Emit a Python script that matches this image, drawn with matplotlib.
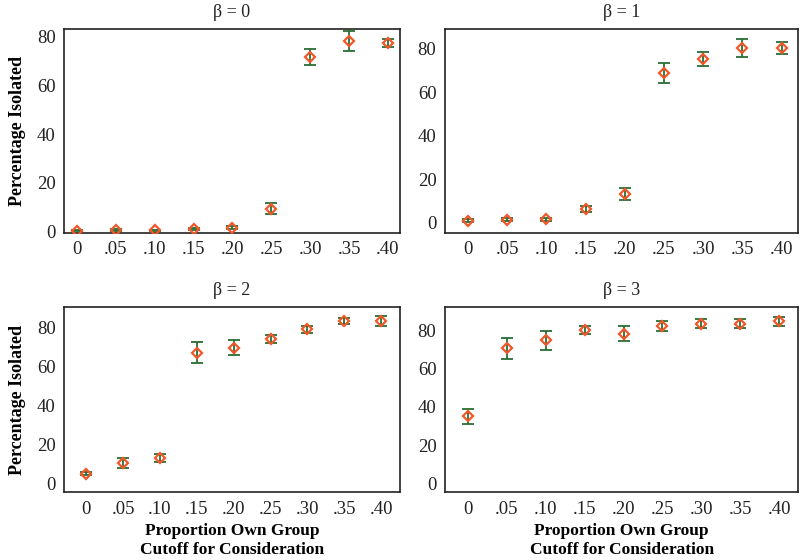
import matplotlib
matplotlib.use("Agg")
import matplotlib.pyplot as plt
import numpy as np

# cutoff categories (x) shared by all panels
cutoffs = ['0', '.05', '.10', '.15', '.20', '.25', '.30', '.35', '.40']

# beta = 0
b0_mean = [0.4, 0.8, 0.6, 1.1, 1.6, 9.5, 71.6, 78.2, 77.3]
b0_err = [0.3, 0.4, 0.3, 0.5, 0.6, 2.2, 3.2, 4.0, 1.8]
# beta = 1
b1_mean = [1.1, 1.5, 1.7, 6.6, 13.3, 68.9, 75.4, 80.3, 80.5]
b1_err = [0.5, 0.6, 0.6, 1.4, 2.9, 4.7, 3.3, 4.2, 2.7]
# beta = 2
b2_mean = [4.8, 10.4, 13.0, 67.0, 69.7, 74.2, 79.0, 83.4, 83.2]
b2_err = [0.8, 2.4, 1.9, 5.4, 4.0, 2.1, 1.8, 1.7, 2.6]
# beta = 3
b3_mean = [35.1, 70.6, 74.8, 80.2, 78.3, 82.3, 83.5, 83.5, 84.7]
b3_err = [3.9, 5.4, 5.1, 2.1, 3.8, 2.4, 2.2, 2.4, 2.4]

titles = ['β = 0', 'β = 1', 'β = 2', 'β = 3']

green = '#2a6e34'
orange = '#f2572a'

fig = plt.figure(figsize=(8, 5.6), dpi=100)

# [left, bottom, width, height] in figure fraction
boxes = [
    [0.080, 0.584, 0.420, 0.364],
    [0.556, 0.584, 0.442, 0.364],
    [0.080, 0.121, 0.420, 0.330],
    [0.556, 0.121, 0.442, 0.330],
]
ylims = [(-0.5, 83), (-4.6, 89), (-4.6, 90.3), (-4.7, 92)]
xlims = [(-0.33, 8.31), (-0.59, 8.43), (-0.6, 8.51), (-0.59, 8.49)]

means = [b0_mean, b1_mean, b2_mean, b3_mean]
errs = [b0_err, b1_err, b2_err, b3_err]

serif = ['Liberation Serif', 'DejaVu Serif']
x = np.arange(len(cutoffs))

for i in range(4):
    ax = fig.add_axes(boxes[i])
    ax.errorbar(x, means[i], yerr=errs[i], fmt='none', ecolor=green,
                elinewidth=1.3, capsize=4, capthick=1.3, zorder=2)
    ax.plot(x, means[i], linestyle='none', marker='D', markersize=5,
            markerfacecolor='none', markeredgecolor=orange,
            markeredgewidth=1.6, zorder=3)
    ax.set_xlim(*xlims[i])
    ax.set_ylim(*ylims[i])
    ax.set_xticks(x)
    ax.set_xticklabels(cutoffs)
    ax.set_yticks([0, 20, 40, 60, 80])
    ax.tick_params(length=0, pad=6, labelsize=13.5)
    for lab in ax.get_xticklabels() + ax.get_yticklabels():
        lab.set_family(serif)
        lab.set_color('#222222')
    for s in ax.spines.values():
        s.set_linewidth(1.2)
        s.set_color('#222222')
    ax.set_title(titles[i], fontsize=13, family=serif, pad=9, color='#222222')
    if i % 2 == 0:
        ax.set_ylabel('Percentage Isolated', fontsize=13, fontweight='bold',
                      family=serif, labelpad=8)
    if i >= 2:
        ax.set_xlabel('Proportion Own Group\nCutoff for Consideration',
                      fontsize=12.5, fontweight='bold', family=serif,
                      labelpad=4, linespacing=1.2)

fig.savefig('out.png', dpi=100)
